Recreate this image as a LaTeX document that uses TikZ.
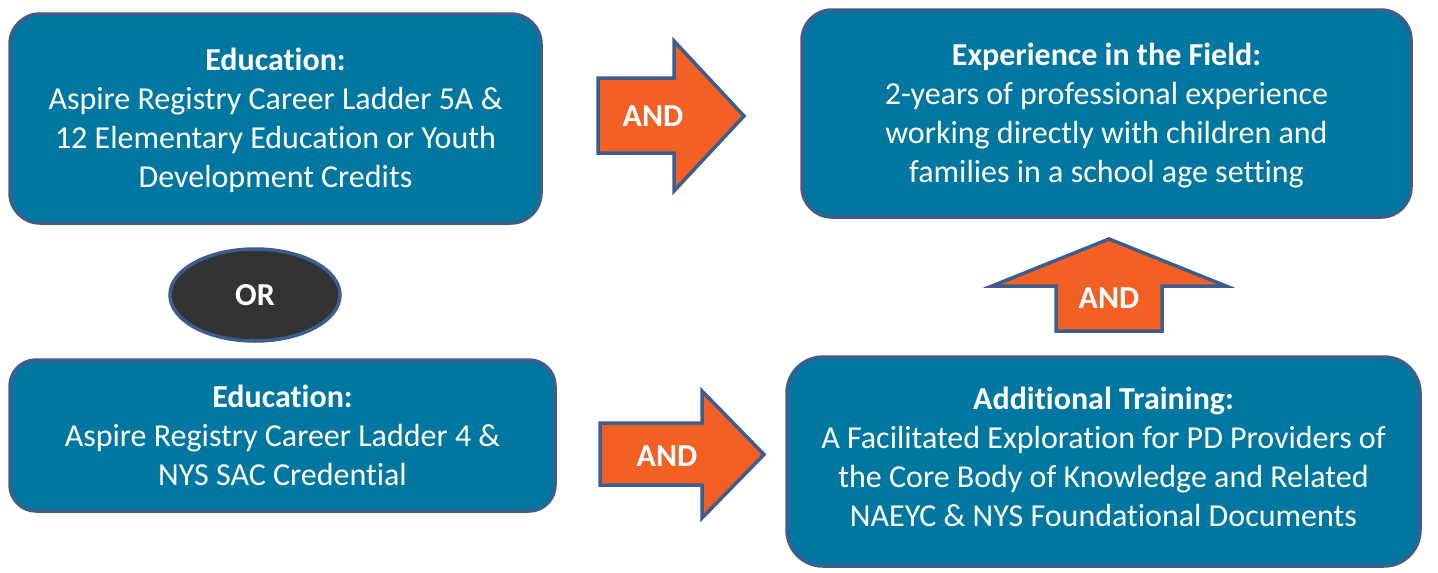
\documentclass[tikz,border=0pt]{standalone}
\usepackage{fontspec}
\setmainfont{Carlito}[Ligatures=NoCommon]
\usetikzlibrary{shapes.geometric,positioning}

\definecolor{boxblue}{HTML}{0077A0}
\definecolor{edgeblue}{HTML}{3D5E8C}
\definecolor{andorange}{HTML}{F26024}
\definecolor{ordark}{HTML}{333333}

\begin{document}
\begin{tikzpicture}[x=1pt,y=-1pt,line width=3.5pt,
                    box/.style={rectangle,rounded corners=30pt,draw=edgeblue,fill=boxblue,
                      text=white,align=center,inner sep=0pt,
                      font=\fontsize{32}{39}\selectfont},
                    andarrow/.style={draw=edgeblue,fill=andorange,line join=miter},
                    andlabel/.style={text=white,font=\fontsize{32}{38}\selectfont\bfseries}]
  \useasboundingbox (0,0) rectangle (1438,573);

  % text depth only nudges the lines inside each box
  \node[box,minimum width=531pt,minimum height=209pt,text depth=1.4pt] (edu5a) at (275.5,118.5)
    {\textbf{Education:}\\Aspire Registry Career Ladder 5A \&\\12 Elementary Education or Youth\\Development Credits};
  \node[box,minimum width=545pt,minimum height=151pt,rounded corners=26pt,
        text depth=-3pt] (edu4) at (282.5,435.5)
    {\textbf{Education:}\\Aspire Registry Career Ladder 4 \&\\NYS SAC Credential};
  \node[box,minimum width=609pt,minimum height=207pt,text depth=1.4pt] (field) at (1106.5,113.5)
    {\textbf{Experience in the Field:}\\2-years of professional experience\\working directly with children and\\families in a school age setting};
  \node[box,minimum width=633pt,minimum height=209pt,rounded corners=36pt,
        text depth=10pt] (training) at (1103.5,461.5)
    {\textbf{Additional Training:}\\A Facilitated Exploration for PD Providers of\\the Core Body of Knowledge and Related\\NAEYC \& NYS Foundational Documents};

  \node[ellipse,draw=edgeblue,fill=ordark,minimum width=170pt,minimum height=92pt,
        andlabel] (or) at (255,295) {OR};

  % block arrows
  \filldraw[andarrow] (598,78) -- (674,78) -- (674,41) -- (744,116)
    -- (674,191) -- (674,153) -- (598,153) -- cycle;
  \filldraw[andarrow] (600,423) -- (702,423) -- (702,391) -- (764,454.5)
    -- (702,518) -- (702,485) -- (600,485) -- cycle;
  \filldraw[andarrow] (1056,331) -- (1056,286) -- (992,286) -- (1109,239)
    -- (1226,286) -- (1162,286) -- (1162,331) -- cycle;

  \node[andlabel] (and1) at (653,116) {AND};
  \node[andlabel] (and2) at (667,456) {AND};
  \node[andlabel] (and3) at (1109,298) {AND};
\end{tikzpicture}
\end{document}
